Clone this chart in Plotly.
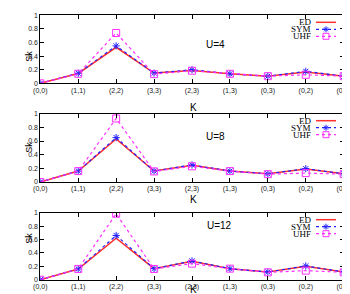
import plotly.graph_objects as go

K_LABELS = ["(0,0)", "(1,1)", "(2,2)", "(3,3)", "(2,3)", "(1,3)", "(0,3)", "(0,2)", "(0,1)"]
U_LABELS = ["U=4", "U=8", "U=12"]
SERIES = ["ED", "SYM", "UHF"]

ED_U4 = [0.0, 0.145, 0.53, 0.15, 0.19, 0.14, 0.105, 0.165, 0.105]
SYM_U4 = [0.0, 0.147, 0.55, 0.15, 0.20, 0.14, 0.105, 0.176, 0.105]
UHF_U4 = [0.0, 0.14, 0.74, 0.135, 0.185, 0.14, 0.105, 0.125, 0.105]

ED_U8 = [0.0, 0.16, 0.63, 0.16, 0.245, 0.16, 0.12, 0.19, 0.12]
SYM_U8 = [0.0, 0.16, 0.65, 0.16, 0.25, 0.16, 0.12, 0.195, 0.12]
UHF_U8 = [0.0, 0.16, 0.93, 0.155, 0.23, 0.16, 0.115, 0.13, 0.115]

ED_U12 = [0.0, 0.16, 0.62, 0.165, 0.275, 0.165, 0.115, 0.20, 0.115]
SYM_U12 = [0.0, 0.16, 0.66, 0.165, 0.28, 0.165, 0.115, 0.205, 0.115]
UHF_U12 = [0.0, 0.16, 0.985, 0.16, 0.24, 0.165, 0.11, 0.135, 0.11]

Y_TICKS = [0, 0.2, 0.4, 0.6, 0.8, 1]
Y_TICK_TEXT = ["0", "0.2", "0.4", "0.6", "0.8", "1"]

panels = [
    (ED_U4, SYM_U4, UHF_U4),
    (ED_U8, SYM_U8, UHF_U8),
    (ED_U12, SYM_U12, UHF_U12),
]

W, H = 350, 294
C_ED, C_SYM, C_UHF = "#ff3030", "#2020ff", "#ff30ff"


def px(x):
    return x / W


def py(y):
    return min(1.0, max(0.0, 1 - y / H))


x_left, x_right = 32.3, 335.7
y_pix = [(7.3, 75.3), (105.7, 174.0), (204.7, 271.7)]
label_pos = [(207, 29), (207, 128), (211, 225)]

fig = go.Figure()
xpos = list(range(len(K_LABELS)))
font_sans = "Liberation Sans, Arial, sans-serif"
font_serif = "Liberation Serif, Times New Roman, serif"

for i, (ed, sym, uhf) in enumerate(panels):
    n = "" if i == 0 else str(i + 1)
    xa, ya = "x" + n, "y" + n
    fig.add_trace(go.Scatter(x=xpos, y=ed, name=SERIES[0], mode="lines", xaxis=xa, yaxis=ya,
                             line=dict(color=C_ED, width=1.5)))
    fig.add_trace(go.Scatter(x=xpos, y=sym, name=SERIES[1], mode="lines+markers", xaxis=xa, yaxis=ya,
                             line=dict(color=C_SYM, width=1.2, dash="dot"),
                             marker=dict(symbol="asterisk-open", size=6, color=C_SYM,
                                         line=dict(color=C_SYM, width=1))))
    fig.add_trace(go.Scatter(x=xpos, y=uhf, name=SERIES[2], mode="lines+markers", xaxis=xa, yaxis=ya,
                             line=dict(color=C_UHF, width=1.2, dash="dot"),
                             marker=dict(symbol="square-open", size=7, color=C_UHF,
                                         line=dict(color=C_UHF, width=1))))

    top, bot = y_pix[i]
    dom = [py(bot), py(top)]
    axis_common = dict(showline=True, linecolor="black", linewidth=1, mirror="ticks",
                       ticks="inside", ticklen=4, tickcolor="black", showgrid=False,
                       zeroline=False, automargin=False,
                       tickfont=dict(family=font_sans, size=7, color="#222"))
    fig.update_layout(**{
        "xaxis" + n: dict(domain=[px(x_left), px(x_right)], anchor=ya, range=[0, 8],
                          tickvals=xpos, ticktext=K_LABELS, **axis_common),
        "yaxis" + n: dict(domain=dom, anchor=xa, range=[0, 1], tickvals=Y_TICKS,
                          ticktext=Y_TICK_TEXT, **axis_common),
    })
    # axis titles
    fig.add_annotation(x=px(14), y=py((top + bot) / 2), xref="paper", yref="paper", text="Sk",
                       textangle=-90, showarrow=False,
                       font=dict(family=font_sans, size=9, color="black"))
    fig.add_annotation(x=px(185), y=py(bot + 17), xref="paper", yref="paper", text="K",
                       showarrow=False, font=dict(family=font_sans, size=10, color="black"))
    # panel label
    lx, ly = label_pos[i]
    fig.add_annotation(x=px(lx), y=py(ly), xref="paper", yref="paper", text=U_LABELS[i],
                       showarrow=False, font=dict(family=font_sans, size=10, color="black"))

    # gnuplot-style key: text right-aligned, sample to its right
    colors = [C_ED, C_SYM, C_UHF]
    dashes = ["solid", "dot", "dot"]
    for j, name in enumerate(SERIES):
        yy = top + 7 + 7 * j
        fig.add_annotation(x=px(305), y=py(yy), xref="paper", yref="paper", text=name,
                           showarrow=False, xanchor="right", yanchor="middle",
                           font=dict(family=font_serif, size=9, color="black"))
        fig.add_shape(type="line", xref="paper", yref="paper", x0=px(308), x1=px(328),
                      y0=py(yy), y1=py(yy),
                      line=dict(color=colors[j], width=1.5 if j == 0 else 1.2, dash=dashes[j]))
        if j == 1:
            fig.add_shape(type="path", xref="paper", yref="paper", xsizemode="pixel",
                          ysizemode="pixel", xanchor=px(318), yanchor=py(yy),
                          path="M -3,0 L 3,0 M 0,-3 L 0,3 M -2,-2 L 2,2 M -2,2 L 2,-2",
                          line=dict(color=C_SYM, width=1))
        if j == 2:
            fig.add_shape(type="rect", xref="paper", yref="paper", xsizemode="pixel",
                          ysizemode="pixel", xanchor=px(318), yanchor=py(yy),
                          x0=-3, x1=3, y0=-3, y1=3, line=dict(color=C_UHF, width=1))

fig.update_layout(width=W, height=H, margin=dict(l=0, r=0, t=0, b=0, autoexpand=False),
                  plot_bgcolor="white", paper_bgcolor="white", showlegend=False)

fig.write_html("out.html")
